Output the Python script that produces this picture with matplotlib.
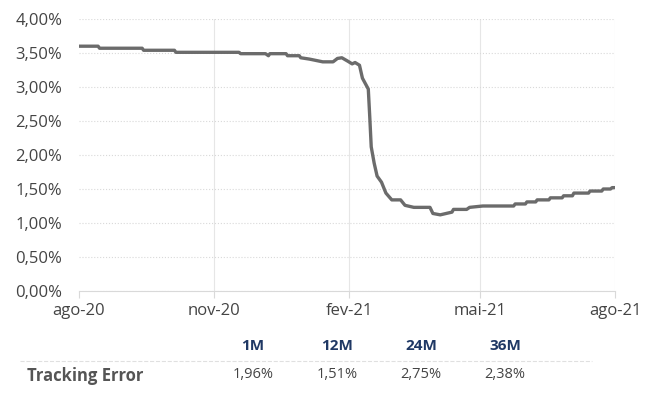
import matplotlib
matplotlib.use("Agg")
import matplotlib.pyplot as plt
import pandas as pd
from matplotlib.ticker import FuncFormatter

# Série tracking error (%)
datas = ["2020-08-01", "2020-08-14", "2020-08-15", "2020-09-13", "2020-09-14",
         "2020-10-05", "2020-10-06", "2020-11-18", "2020-11-19", "2020-12-06",
         "2020-12-08", "2020-12-09", "2020-12-20", "2020-12-21", "2020-12-29",
         "2020-12-30", "2021-01-05", "2021-01-14", "2021-01-21", "2021-01-24",
         "2021-01-27", "2021-01-31", "2021-02-03", "2021-02-05", "2021-02-08",
         "2021-02-10", "2021-02-14", "2021-02-15", "2021-02-16", "2021-02-18",
         "2021-02-20", "2021-02-23", "2021-02-26", "2021-03-02", "2021-03-08",
         "2021-03-11", "2021-03-17", "2021-03-28", "2021-03-30", "2021-04-04",
         "2021-04-12", "2021-04-13", "2021-04-22", "2021-04-24", "2021-05-03",
         "2021-05-24", "2021-05-25", "2021-06-01", "2021-06-02", "2021-06-08",
         "2021-06-09", "2021-06-17", "2021-06-18", "2021-06-26", "2021-06-27",
         "2021-07-03", "2021-07-04", "2021-07-14", "2021-07-15", "2021-07-23",
         "2021-07-24", "2021-07-29", "2021-07-30", "2021-08-01"]
valeurs = [3.60, 3.60, 3.57, 3.57, 3.54,
           3.54, 3.51, 3.51, 3.49, 3.49,
           3.46, 3.49, 3.49, 3.46, 3.46,
           3.43, 3.41, 3.37, 3.37, 3.42,
           3.43, 3.38, 3.34, 3.36, 3.32,
           3.13, 2.97, 2.56, 2.12, 1.88,
           1.69, 1.60, 1.44, 1.34, 1.34,
           1.26, 1.23, 1.23, 1.14, 1.12,
           1.16, 1.20, 1.20, 1.23, 1.25,
           1.25, 1.28, 1.28, 1.31, 1.31,
           1.34, 1.34, 1.37, 1.37, 1.40,
           1.40, 1.44, 1.44, 1.47, 1.47,
           1.50, 1.50, 1.52, 1.52]

ticks_x = ["2020-08-01", "2020-11-01", "2021-02-01", "2021-05-01", "2021-08-01"]
labels_x = ["ago-20", "nov-20", "fev-21", "mai-21", "ago-21"]

periodes = ["1M", "12M", "24M", "36M"]
tracking = ["1,96%", "1,51%", "2,75%", "2,38%"]

plt.rcParams['font.family'] = ['Open Sans', 'DejaVu Sans']
gris_texte = '#444444'

fig = plt.figure(figsize=(6.46, 4.13), dpi=100)
ax = fig.add_axes([0.1223, 0.2954, 0.8297, 0.6586])

ax.plot(pd.to_datetime(datas), valeurs, color='#6b6b6b', linewidth=2.4, solid_joinstyle='round')

ax.set_xlim(pd.Timestamp("2020-08-01"), pd.Timestamp("2021-08-01"))
ax.set_ylim(0, 4)
ax.set_yticks([i * 0.5 for i in range(9)])
ax.yaxis.set_major_formatter(FuncFormatter(lambda v, p: f"{v:.2f}%".replace('.', ',')))
ax.set_xticks(pd.to_datetime(ticks_x))
ax.set_xticklabels(labels_x)

ax.grid(axis='y', color='#d9d9d9', linestyle=':', linewidth=0.8)
for t in pd.to_datetime(ticks_x)[1:]:
    ax.axvline(t, color='#e6e6e6', linewidth=0.8, zorder=0)

for s in ['top', 'right', 'left']:
    ax.spines[s].set_visible(False)
ax.spines['bottom'].set_color('#d9d9d9')
ax.tick_params(axis='y', length=0, labelsize=12, colors=gris_texte, pad=12)
ax.tick_params(axis='x', length=5, color='#d9d9d9', labelsize=12, colors=gris_texte, pad=4)

# Tableau du tracking error
xs = [253, 337, 421, 505]
for x, p, v in zip(xs, periodes, tracking):
    fig.text(x / 646, 1 - 346 / 413, p, ha='center', va='center', fontsize=11,
             fontweight='bold', color='#1f3864')
    fig.text(x / 646, 1 - 375 / 413, v, ha='center', va='center', fontsize=10.5,
             color=gris_texte)
fig.text(27 / 646, 1 - 376 / 413, "Tracking Error", ha='left', va='center', fontsize=12,
         fontweight='bold', color='#555555')
fig.add_artist(plt.Line2D([20 / 646, 592 / 646], [1 - 361 / 413, 1 - 361 / 413],
                          color='#e0e0e0', linewidth=0.8, linestyle='--'))

fig.savefig("out.png", dpi=100)
